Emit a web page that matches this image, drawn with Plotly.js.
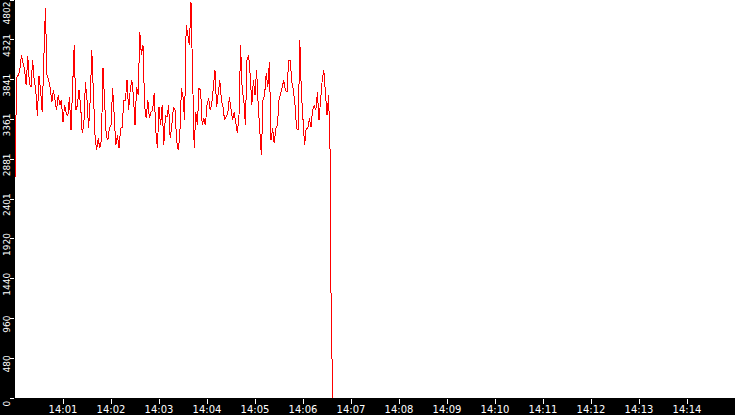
<!DOCTYPE html>
<html>
<head>
<meta charset="utf-8">
<script src="https://cdn.plot.ly/plotly-3.0.1.min.js"></script>
<style>
  html, body { margin: 0; padding: 0; background: #000; }
  #chart { width: 735px; height: 415px; }
  .scatterlayer path { shape-rendering: crispEdges; }
</style>
</head>
<body>
<div id="chart"></div>
<script>
//  ======== DATA ========
// seconds after 14:00:00
var secs = [
  0, 2, 4, 6, 8, 10, 12, 14, 16, 18, 20, 22, 24, 26, 28, 30, 32, 34, 36, 38,
  40, 42, 44, 46, 48, 50, 52, 54, 56, 58, 60, 62, 64, 66, 68, 70, 72, 74, 76, 78,
  80, 82, 84, 86, 88, 90, 92, 94, 96, 98, 100, 102, 104, 106, 108, 110, 112, 114, 116, 118,
  120, 122, 124, 126, 128, 130, 132, 134, 136, 138, 140, 142, 144, 146, 148, 150, 152, 154, 156, 158,
  160, 162, 164, 166, 168, 170, 172, 174, 176, 178, 180, 182, 184, 186, 188, 190, 192, 194, 196, 198,
  200, 202, 204, 206, 208, 210, 212, 214, 216, 218, 220, 222, 224, 226, 228, 230, 232, 234, 236, 238,
  240, 242, 244, 246, 248, 250, 252, 254, 256, 258, 260, 262, 264, 266, 268, 270, 272, 274, 276, 278,
  280, 282, 284, 286, 288, 290, 292, 294, 296, 298, 300, 302, 304, 306, 308, 310, 312, 314, 316, 318,
  320, 322, 324, 326, 328, 330, 332, 334, 336, 338, 340, 342, 344, 346, 348, 350, 352, 354, 356, 358,
  360, 362, 364, 366, 368, 370, 372, 374, 376, 378, 380, 382, 384, 386, 388, 390, 392, 394, 395, 397
];
var values = [
  2650, 3860, 3895, 3955, 4137, 4052, 3955, 3774, 4125, 3798, 3750, 4076, 3834, 3713, 3399, 3883, 3713, 3447, 4173, 4705,
  3895, 3834, 3738, 3568, 3713, 3593, 3472, 3653, 3532, 3593, 3326, 3532, 3435, 3399, 3629, 3230, 3689, 4258, 3472, 3532,
  3713, 3532, 3193, 3290, 3810, 3593, 3254, 3593, 4197, 3653, 3169, 2988, 3133, 3012, 3109, 3980, 3472, 3169, 3109, 3254,
  3290, 3738, 3411, 3048, 3169, 3012, 3254, 3266, 3593, 3593, 3834, 3472, 3713, 3834, 3653, 3290, 3750, 3653, 4415, 4137,
  4258, 3532, 3375, 3593, 3375, 3447, 3472, 3677, 3230, 3012, 3508, 3290, 3532, 3048, 3411, 3387, 3532, 3133, 3290, 3508,
  3472, 3109, 2988, 3169, 3738, 3629, 3351, 4500, 4379, 4258, 4778, 3955, 3012, 3447, 3290, 3738, 3713, 3290, 3375, 3290,
  3532, 3617, 3472, 3556, 3774, 3955, 3508, 3653, 3834, 3593, 3508, 3351, 3387, 3435, 3629, 3472, 3351, 3447, 3290, 3193,
  3411, 4258, 3713, 3593, 3290, 4076, 4137, 3895, 3532, 3834, 3653, 3955, 3532, 3230, 2927, 3593, 3653, 3919, 3750, 4052,
  3109, 3254, 3072, 3254, 3290, 3593, 3677, 3738, 3834, 3713, 3689, 4076, 4076, 3810, 3713, 3532, 3254, 3230, 4318, 3677,
  3351, 3048, 3254, 3254, 3375, 3266, 3472, 3532, 3472, 3689, 3351, 3593, 3834, 3955, 3713, 3411, 3653, 2927, 1262, 0
];

var yTicks = [0, 480, 960, 1440, 1920, 2401, 2881, 3361, 3841, 4321, 4802];
var yLabels = ['0', '480', '960', '1440', '1920', '2401', '2881', '3361', '3841', '4321', '4802'];
var xTicks = ['14:01', '14:02', '14:03', '14:04', '14:05', '14:06', '14:07',
              '14:08', '14:09', '14:10', '14:11', '14:12', '14:13', '14:14'];

var day = '2024-01-01 ';
function stamp(s) {
  var m = Math.floor(s / 60), sec = s % 60;
  return day + '14:' + (m < 10 ? '0' : '') + m + ':' + (sec < 10 ? '0' : '') + sec;
}

// top label would stick out of the page, so it is drawn as an annotation instead
var last = yTicks.length - 1;
var tickText = yLabels.map(function(l, i) { return i === last ? '' : l; });

//  ======== PLOT ========
var trace = {
  x: secs.map(stamp),
  y: values,
  type: 'scatter',
  mode: 'lines',
  line: {color: '#ff0000', width: 1},
  hoverinfo: 'none'
};

var layout = {
  width: 735,
  height: 415,
  margin: {l: 15, r: 0, t: 0, b: 17, pad: 0},
  paper_bgcolor: '#000000',
  plot_bgcolor: '#ffffff',
  showlegend: false,
  font: {family: 'DejaVu Sans', color: '#ffffff', size: 10},
  xaxis: {
    type: 'date',
    range: [day + '14:00:00', day + '14:15:00'],
    tickvals: xTicks.map(function(t) { return day + t + ':00'; }),
    ticktext: xTicks,
    ticks: 'outside',
    ticklen: 5,
    tickwidth: 1,
    tickcolor: '#ffffff',
    ticklabelstandoff: -3,
    ticklabeloverflow: 'allow',
    tickfont: {family: 'DejaVu Sans', size: 10, color: '#ffffff'},
    showgrid: false,
    zeroline: false,
    showline: false,
    fixedrange: true
  },
  yaxis: {
    range: [0, 4802],
    tickvals: yTicks,
    ticktext: tickText,
    tickangle: -90,
    ticks: 'outside',
    ticklen: 4,
    tickwidth: 1,
    tickcolor: '#ffffff',
    ticklabelshift: 7,
    ticklabelstandoff: -4,
    ticklabeloverflow: 'allow',
    tickfont: {family: 'DejaVu Sans', size: 9, color: '#ffffff'},
    showgrid: false,
    zeroline: false,
    showline: false,
    fixedrange: true
  },
  annotations: [{
    xref: 'paper', yref: 'y',
    x: 0, y: yTicks[last],
    text: yLabels[last],
    textangle: -90,
    showarrow: false,
    xanchor: 'right', yanchor: 'top',
    xshift: -3, yshift: -1,
    borderpad: 0,
    font: {family: 'DejaVu Sans', size: 9, color: '#ffffff'}
  }]
};

Plotly.newPlot('chart', [trace], layout, {displayModeBar: false, staticPlot: true});
</script>
</body>
</html>
